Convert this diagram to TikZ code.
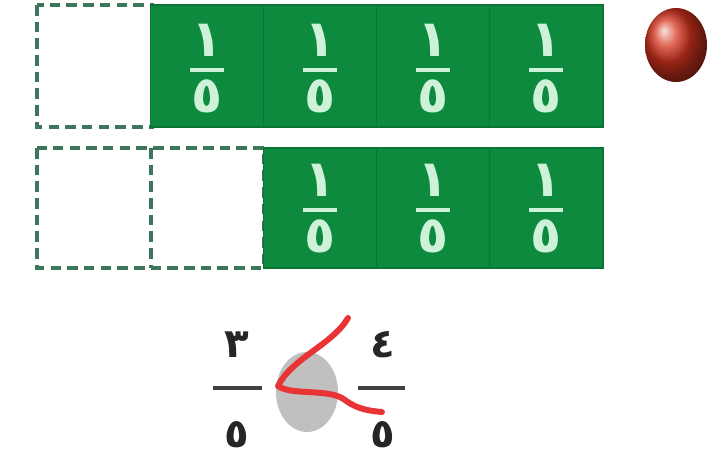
\documentclass[tikz,border=0pt]{standalone}
\usepackage{fontspec}
\newfontfamily\arabicfont[Script=Arabic]{DejaVu Sans}
\definecolor{barGreen}{RGB}{14,138,62}
\definecolor{digitGreen}{RGB}{205,242,215}
\definecolor{dashGreen}{RGB}{62,118,92}
\definecolor{markRed}{RGB}{232,52,52}
\definecolor{dotRed}{RGB}{214,52,30}
\definecolor{blobGrey}{RGB}{192,192,192}
\begin{document}
\begin{tikzpicture}[x=0.02cm,y=-0.02cm,
    part/.style={fill=barGreen,draw=barGreen!85!black,line width=0.6pt},
    gap/.style={draw=dashGreen,dash pattern=on 6pt off 3.5pt,line width=2.6pt},
    celldigit/.style={text=digitGreen,inner sep=0pt,
      font=\arabicfont\bfseries\fontsize{29}{29}\selectfont},
    celldash/.style={draw=digitGreen,line width=2.2pt},
    bigdigit/.style={text=black!85,inner sep=0pt,
      font=\arabicfont\bfseries\fontsize{23}{23}\selectfont},
    bigdash/.style={draw=black!75,line width=2.2pt}]
  \useasboundingbox (0,0) rectangle (713,474);
  % empty (taken away) parts
  \draw[gap] (37,5) rectangle (152,127);
  \draw[gap] (37,148) rectangle (264,268);
  \draw[gap] (151,148) -- (151,268);
  % top row: four fifths
  \foreach \i in {1,...,4} {
    \pgfmathsetmacro{\xl}{37+113.2*\i}
    \pgfmathsetmacro{\xc}{\xl+56.6}
    \draw[part] (\xl,5) rectangle ++(113.2,122);
    \node[celldigit] (tn\i) at (\xc,40) {١};
    \node[celldigit] (td\i) at (\xc,96) {٥};
    \draw[celldash] (\xc-17,70) -- (\xc+17,70);
  }
  % second row: three fifths
  \foreach \i in {2,...,4} {
    \pgfmathsetmacro{\xl}{37+113.2*\i}
    \pgfmathsetmacro{\xc}{\xl+56.6}
    \draw[part] (\xl,148) rectangle ++(113.2,120);
    \node[celldigit] (bn\i) at (\xc,180) {١};
    \node[celldigit] (bd\i) at (\xc,236) {٥};
    \draw[celldash] (\xc-17,210) -- (\xc+17,210);
  }
  % question marker
  \shade[ball color=dotRed] (676,45) ellipse [x radius=31,y radius=37];
  % comparison
  \fill[blobGrey] (307,392) ellipse [x radius=31,y radius=40];
  \node[bigdigit] (ln) at (237,345) {٣};
  \node[bigdigit] (ld) at (237,435) {٥};
  \draw[bigdash] (213,388) -- (262,388);
  \node[bigdigit] (rn) at (383,345) {٤};
  \node[bigdigit] (rd) at (383,435) {٥};
  \draw[bigdash] (358,388) -- (405,388);
  \draw[markRed,line width=3.4pt,line cap=round,line join=round]
    (348,318) .. controls (332,345) and (292,358) .. (278,386)
    .. controls (292,396) and (330,388) .. (345,400)
    .. controls (358,410) and (372,411) .. (382,412);
\end{tikzpicture}
\end{document}
